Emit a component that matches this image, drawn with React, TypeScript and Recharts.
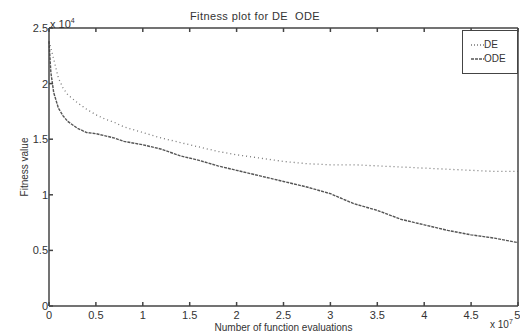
import { LineChart, Line, XAxis, YAxis } from 'recharts';

// evaluations, in units of 10^7
const evals = [
  0, 0.02, 0.05, 0.1, 0.15, 0.2, 0.3, 0.4, 0.5, 0.6, 0.7, 0.8, 1.0, 1.2, 1.4, 1.6, 1.8, 2.0,
  2.25, 2.5, 2.75, 3.0, 3.25, 3.5, 3.75, 4.0, 4.25, 4.5, 4.75, 5.0,
];
// fitness values, in units of 10^4
const deFitness = [
  2.38, 2.32, 2.22, 2.05, 1.96, 1.9, 1.83, 1.77, 1.72, 1.68, 1.65, 1.61, 1.56, 1.51, 1.47, 1.43,
  1.39, 1.36, 1.33, 1.3, 1.28, 1.27, 1.27, 1.26, 1.25, 1.24, 1.23, 1.22, 1.21, 1.21,
];
const odeFitness = [
  2.38, 2.1, 1.92, 1.78, 1.71, 1.66, 1.6, 1.56, 1.55, 1.53, 1.51, 1.48, 1.45, 1.41, 1.35, 1.31,
  1.26, 1.22, 1.17, 1.12, 1.07, 1.01, 0.92, 0.86, 0.78, 0.73, 0.68, 0.64, 0.61, 0.57,
];
const xTicks = [0, 0.5, 1, 1.5, 2, 2.5, 3, 3.5, 4, 4.5, 5];
const yTicks = [0, 0.5, 1, 1.5, 2, 2.5];

const data = evals.map((x, i) => ({ x, de: deFitness[i], ode: odeFitness[i] }));

const FONT = '"Liberation Sans", Arial, sans-serif';
const AXIS = '#444';
const tickStyle = { fontSize: 11, fill: '#333', fontFamily: FONT };

export default function App() {
  return (
    <div
      style={{
        position: 'absolute',
        left: 0,
        top: 0,
        width: 520,
        height: 335,
        background: '#fff',
        fontFamily: FONT,
        color: '#333',
      }}
    >
      <LineChart
        width={520}
        height={335}
        data={data}
        margin={{ top: 27, right: 1, bottom: 0, left: 0 }}
      >
        <XAxis
          dataKey="x"
          type="number"
          domain={[0, 5]}
          ticks={xTicks}
          height={29}
          tickSize={-4}
          tickMargin={9}
          stroke={AXIS}
          strokeWidth={1.5}
          tick={tickStyle}
          label={{
            value: 'Number of function evaluations',
            position: 'insideBottom',
            offset: 4,
            style: { fontSize: 10, fill: '#333', fontFamily: FONT },
          }}
        />
        <XAxis
          xAxisId="top"
          orientation="top"
          dataKey="x"
          type="number"
          domain={[0, 5]}
          ticks={xTicks}
          height={1}
          tickSize={-4}
          stroke={AXIS}
          strokeWidth={1.5}
          tick={{ fill: 'transparent', fontSize: 1 }}
        />
        <YAxis
          type="number"
          domain={[0, 2.5]}
          ticks={yTicks}
          width={49}
          tickSize={-4}
          tickMargin={5}
          stroke={AXIS}
          strokeWidth={1.5}
          tick={tickStyle}
          label={{
            value: 'Fitness value',
            angle: -90,
            position: 'insideLeft',
            offset: 24,
            style: { fontSize: 10, fill: '#333', fontFamily: FONT, textAnchor: 'middle' },
          }}
        />
        <YAxis
          yAxisId="right"
          orientation="right"
          type="number"
          domain={[0, 2.5]}
          ticks={yTicks}
          width={1}
          tickSize={-4}
          stroke={AXIS}
          strokeWidth={1.5}
          tick={{ fill: 'transparent', fontSize: 1 }}
        />
        <Line
          dataKey="de"
          name="DE"
          type="linear"
          stroke="#777"
          strokeWidth={1.3}
          strokeDasharray="1 3"
          dot={false}
          isAnimationActive={false}
        />
        <Line
          dataKey="ode"
          name="ODE"
          type="linear"
          stroke="#555"
          strokeWidth={1.4}
          strokeDasharray="3 1"
          dot={false}
          isAnimationActive={false}
        />
      </LineChart>

      {/* title and axis multipliers */}
      <div
        style={{
          position: 'absolute',
          left: 190,
          top: 10,
          fontSize: 11,
          letterSpacing: 0.4,
          whiteSpace: 'nowrap',
        }}
      >
        Fitness plot for DE&nbsp;&nbsp;ODE
      </div>
      <div style={{ position: 'absolute', left: 50, top: 14, fontSize: 11, lineHeight: '14px' }}>
        x 10<sup style={{ fontSize: 7 }}>4</sup>
      </div>
      <div
        style={{
          position: 'absolute',
          left: 490,
          top: 319,
          fontSize: 10,
          lineHeight: '12px',
          whiteSpace: 'nowrap',
        }}
      >
        x 10<sup style={{ fontSize: 7, lineHeight: 0 }}>7</sup>
      </div>

      {/* legend box */}
      <div
        style={{
          position: 'absolute',
          left: 462,
          top: 30,
          width: 54,
          height: 42,
          border: `1.5px solid ${AXIS}`,
          background: '#fff',
          fontSize: 10,
        }}
      >
        {[
          { label: 'DE', color: '#777', dash: '1 2' },
          { label: 'ODE', color: '#555', dash: '3 1' },
        ].map((item, i) => (
          <div
            key={item.label}
            style={{
              position: 'absolute',
              left: 8,
              top: 8 + i * 14,
              display: 'flex',
              alignItems: 'center',
              lineHeight: '12px',
            }}
          >
            <svg width={13} height={12}>
              <line
                x1={0}
                x2={13}
                y1={6}
                y2={6}
                stroke={item.color}
                strokeWidth={1.3}
                strokeDasharray={item.dash}
              />
            </svg>
            <span>{item.label}</span>
          </div>
        ))}
      </div>
    </div>
  );
}
